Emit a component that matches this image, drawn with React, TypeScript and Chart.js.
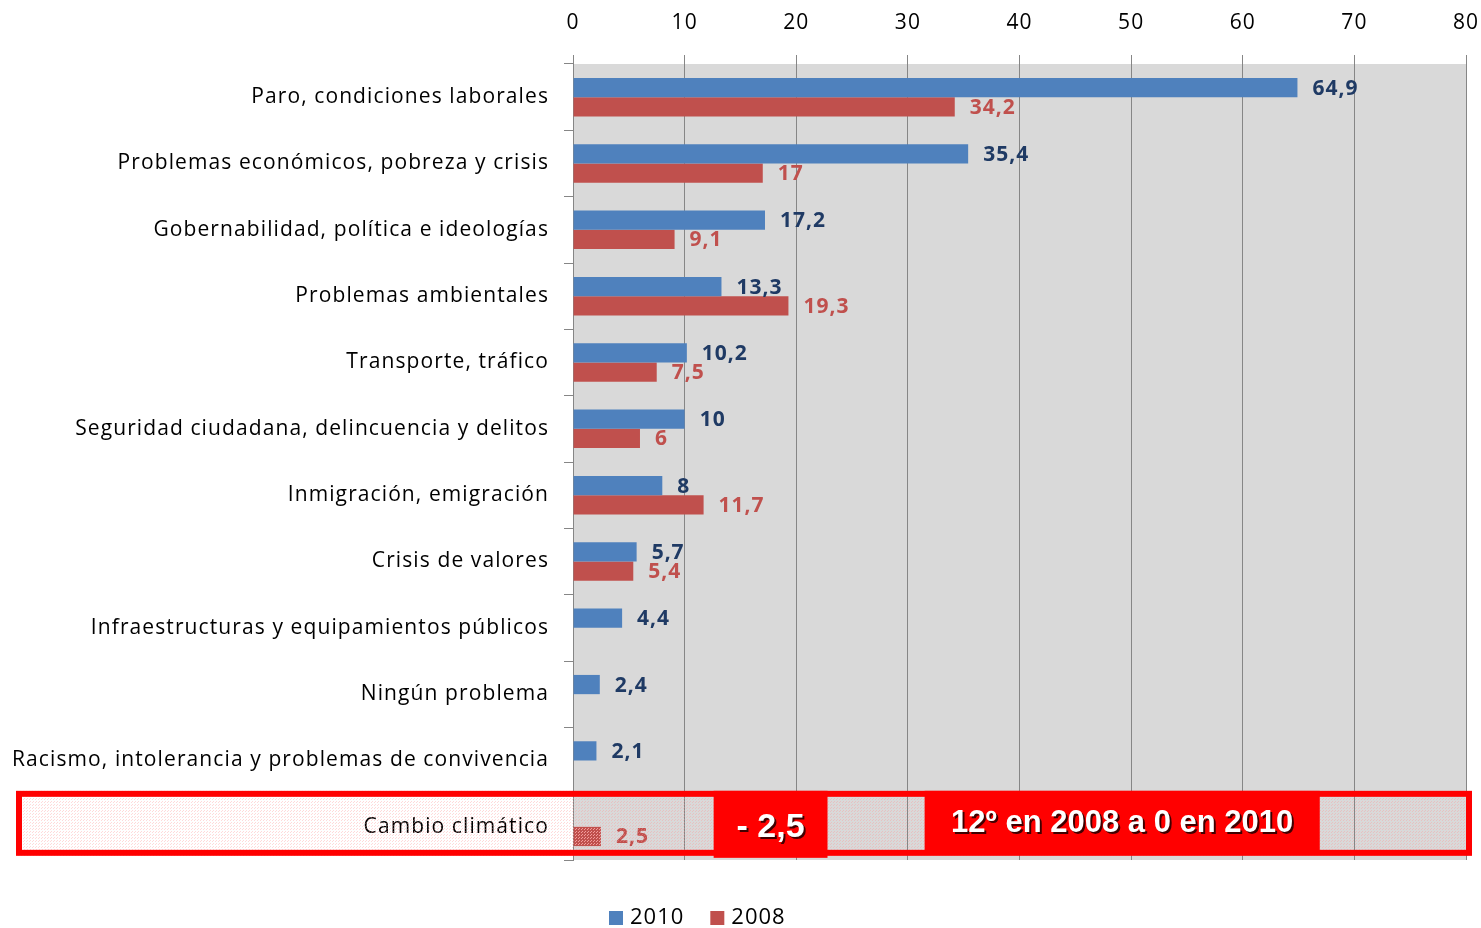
import React, { useEffect, useRef } from "react";
import { Chart, registerables } from "chart.js";

Chart.register(...registerables);

const categories = [
  "Paro, condiciones laborales",
  "Problemas económicos, pobreza y crisis",
  "Gobernabilidad, política e ideologías",
  "Problemas ambientales",
  "Transporte, tráfico",
  "Seguridad ciudadana, delincuencia y delitos",
  "Inmigración, emigración",
  "Crisis de valores",
  "Infraestructuras y equipamientos públicos",
  "Ningún problema",
  "Racismo, intolerancia y problemas de convivencia",
  "Cambio climático",
];
const values2010: (number | null)[] = [64.9, 35.4, 17.2, 13.3, 10.2, 10, 8, 5.7, 4.4, 2.4, 2.1, null];
const values2008: (number | null)[] = [34.2, 17, 9.1, 19.3, 7.5, 6, 11.7, 5.4, null, null, null, 2.5];
const seriesNames = ["2010", "2008"];
const xMin = 0;
const xMax = 80;
const xStep = 10;
const highlightChange = "- 2,5";
const highlightNote = "12º en 2008 a 0 en 2010";

const BLUE = "#4f81bd";
const RED = "#c0504d";
const FONT = "'Open Sans', Lato, sans-serif";

function fmt(v: number) {
  return String(v).replace(".", ",");
}

export default function App() {
  const ref = useRef<HTMLCanvasElement | null>(null);
  useEffect(() => {
    const canvas = ref.current!;
    const mkPattern = (base: string | null, dot: string) => {
      const c = document.createElement("canvas");
      c.width = 3;
      c.height = 3;
      const g = c.getContext("2d")!;
      if (base) {
        g.fillStyle = base;
        g.fillRect(0, 0, 3, 3);
      }
      g.fillStyle = dot;
      g.fillRect(0, 0, 1, 1);
      g.fillRect(2, 1, 1, 1);
      return canvas.getContext("2d")!.createPattern(c, "repeat")!;
    };
    const redPattern = mkPattern(RED, "rgba(240,170,170,0.9)");
    const overlayPattern = mkPattern(null, "rgba(255,150,150,0.35)");

    const redColors = values2008.map((_, i) => (i === categories.length - 1 ? redPattern : RED));

    const bgPlugin = {
      id: "bg",
      beforeDraw(chart: any) {
        const { ctx, chartArea: a } = chart;
        ctx.save();
        ctx.fillStyle = "#ffffff";
        ctx.fillRect(0, 0, chart.width, chart.height);
        ctx.fillStyle = "#d9d9d9";
        ctx.fillRect(a.left, a.top, a.right - a.left, a.bottom - a.top);
        ctx.restore();
        (ctx as any).letterSpacing = "1.1px";
      },
    };

    const labelPlugin = {
      id: "labels",
      afterDatasetsDraw(chart: any) {
        const ctx = chart.ctx;
        ctx.save();
        ctx.letterSpacing = "1px";
        ctx.font = `bold 21px ${FONT}`;
        ctx.textAlign = "left";
        ctx.textBaseline = "middle";
        chart.data.datasets.forEach((ds: any, di: number) => {
          const meta = chart.getDatasetMeta(di);
          ctx.fillStyle = di === 0 ? "#1f3a64" : RED;
          meta.data.forEach((el: any, i: number) => {
            const v = ds.data[i];
            if (v === null || v === undefined) return;
            ctx.fillText(fmt(v), el.x + 15, el.y + 1);
          });
        });
        ctx.restore();
      },
    };

    const overlayPlugin = {
      id: "overlay",
      afterDraw(chart: any) {
        const { ctx, chartArea: a, scales } = chart;
        const y = scales.y.getPixelForValue(categories.length - 1);
        const x = scales.x;
        const top = y - 36;
        const bottom = y + 29;
        const left = 16;
        const right = a.right + 6;
        ctx.save();
        ctx.letterSpacing = "0px";
        ctx.fillStyle = overlayPattern;
        ctx.fillRect(left, top, right - left, bottom - top);
        ctx.strokeStyle = "#ff0000";
        ctx.lineWidth = 6;
        ctx.strokeRect(left + 3, top + 3, right - left - 6, bottom - top - 6);
        ctx.fillStyle = "#ff0000";
        const b1l = x.getPixelForValue(12.6);
        const b1r = x.getPixelForValue(22.8);
        ctx.fillRect(b1l, top, b1r - b1l, bottom - top + 2);
        const b2l = x.getPixelForValue(31.5);
        const b2r = x.getPixelForValue(66.9);
        ctx.fillRect(b2l, top, b2r - b2l, bottom - top - 3);
        ctx.textAlign = "center";
        ctx.textBaseline = "middle";
        const drawShadowText = (t: string, cx: number, cy: number, font: string) => {
          ctx.font = font;
          ctx.fillStyle = "#400000";
          ctx.fillText(t, cx + 2, cy + 2);
          ctx.fillStyle = "#ffffff";
          ctx.fillText(t, cx, cy);
        };
        drawShadowText(
          highlightChange,
          (b1l + b1r) / 2,
          y + 1,
          "bold 34px 'Liberation Sans Narrow', 'Liberation Sans', Arial, sans-serif"
        );
        drawShadowText(
          highlightNote,
          (b2l + b2r) / 2,
          y - 3,
          "bold 31px 'Liberation Sans Narrow', 'Liberation Sans', Arial, sans-serif"
        );
        ctx.letterSpacing = "1px";
        ctx.font = `22px ${FONT}`;
        ctx.textAlign = "left";
        ctx.textBaseline = "middle";
        let lx = 609;
        const ly = 918;
        chart.data.datasets.forEach((ds: any) => {
          ctx.fillStyle = ds.legendColor;
          ctx.fillRect(lx, ly - 7, 14, 14);
          ctx.fillStyle = "#000";
          ctx.fillText(ds.label, lx + 21, ly);
          lx += 21 + ctx.measureText(ds.label).width + 26;
        });
        ctx.restore();
      },
    };

    const chart = new Chart(canvas, {
      type: "bar",
      data: {
        labels: categories,
        datasets: [
          {
            label: seriesNames[0],
            data: values2010,
            backgroundColor: BLUE,
            legendColor: BLUE,
            categoryPercentage: 0.58,
            barPercentage: 1,
          } as any,
          {
            label: seriesNames[1],
            data: values2008,
            backgroundColor: redColors,
            legendColor: RED,
            categoryPercentage: 0.58,
            barPercentage: 1,
          } as any,
        ],
      },
      options: {
        indexAxis: "y",
        animation: false,
        responsive: false,
        maintainAspectRatio: false,
        layout: { padding: { left: 0, right: 15, top: 0, bottom: 68 } },
        plugins: { legend: { display: false }, tooltip: { enabled: false } },
        scales: {
          x: {
            position: "top",
            min: xMin,
            max: xMax,
            ticks: { stepSize: xStep, color: "#000", font: { family: FONT, size: 21 }, padding: 19 },
            grid: { color: "#868686", lineWidth: 1, tickLength: 9, drawTicks: true },
            border: { display: false },
            afterFit: (s: any) => {
              s.height = 64;
              s.paddingLeft = 0;
              s.paddingRight = 0;
            },
          },
          y: {
            ticks: { color: "#000", font: { family: FONT, size: 21 }, padding: 15 },
            grid: {
              offset: true,
              drawOnChartArea: false,
              drawTicks: true,
              tickLength: 9,
              color: "#868686",
            },
            border: { display: true, color: "#868686", width: 1 },
            afterFit: (s: any) => {
              s.width = 573;
              s.paddingTop = 0;
              s.paddingBottom = 0;
            },
          },
        },
      },
      plugins: [bgPlugin, labelPlugin, overlayPlugin],
    } as any);
    return () => chart.destroy();
  }, []);
  return (
    <div style={{ position: "fixed", left: 0, top: 0, width: 1481, height: 928, background: "#fff" }}>
      <canvas ref={ref} width={1481} height={928} style={{ display: "block" }} />
    </div>
  );
}
